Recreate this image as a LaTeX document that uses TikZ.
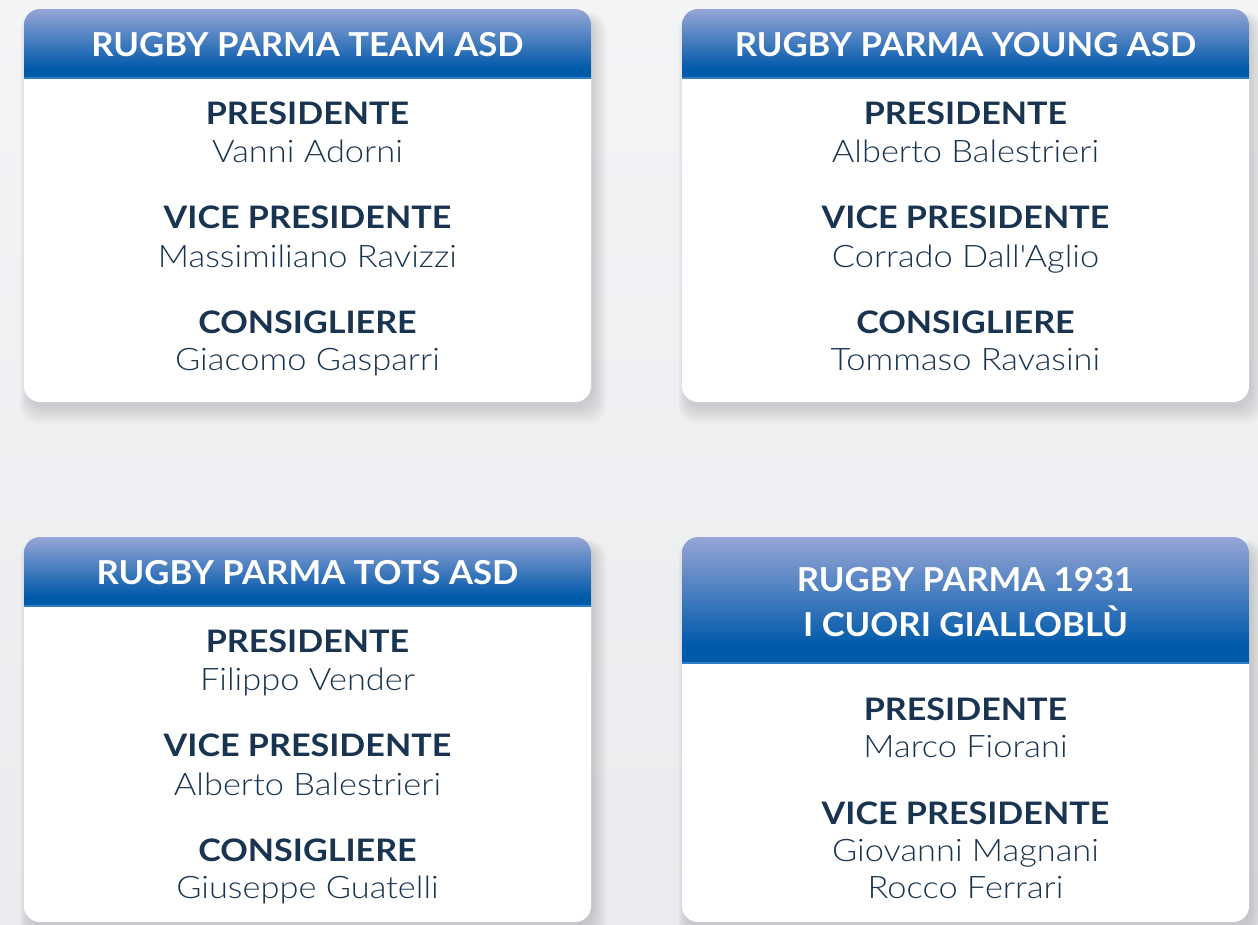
\documentclass[tikz,border=0pt]{standalone}
\usepackage{xcolor}
\usepackage{fontspec}
\setmainfont{Lato}
\newfontfamily\clubfont{Lato}[FakeStretch=1.05]
\newfontfamily\rolefont{Lato}[FakeStretch=1.1]
\newfontfamily\namefont{Lato Light}[FakeStretch=1.11]
\usepackage{tikz}

\definecolor{navy}{RGB}{24,52,80}
\definecolor{hdrtop}{RGB}{150,165,214}
\definecolor{hdrbot}{RGB}{0,90,170}
\definecolor{hdrline}{RGB}{45,125,200}
\definecolor{bgtop}{RGB}{243,244,246}
\definecolor{bgbot}{RGB}{233,235,238}

\pgfdeclareverticalshading{hdrshade}{100bp}{color(0bp)=(hdrbot); color(32bp)=(hdrbot); color(75bp)=(hdrtop); color(100bp)=(hdrtop)}

% card: left, top, right, bottom, header bottom
\newcommand{\rpcard}[5]{%
  \foreach \s in {0,2,...,16}
    \fill[black,opacity=0.015,rounded corners=18pt] ({#1+4-\s*0.5},{#2+8-\s*0.3}) rectangle ({#3+3+\s*0.8},{#4+6+\s});
  \fill[white,rounded corners=16pt] (#1,#2) rectangle (#3,#4);
  \begin{scope}
    \clip[rounded corners=16pt] (#1,#2) rectangle (#3,#4);
    \shade[shading=hdrshade] (#1,#2) rectangle (#3,#5);
  \end{scope}
  \draw[hdrline,line width=1.2pt] (#1,#5) -- (#3,#5);
}

\begin{document}
\begin{tikzpicture}[x=1pt,y=-1pt]
  \tikzstyle{club}=[text=white,font=\clubfont\bfseries\fontsize{33}{40}\selectfont,anchor=base,inner sep=0pt]
  \tikzstyle{role}=[text=navy,font=\rolefont\bfseries\fontsize{31}{37}\selectfont,anchor=base,inner sep=0pt]
  \tikzstyle{who}=[text=navy,font=\namefont\fontsize{31}{37}\selectfont,anchor=base,inner sep=0pt]

  \shade[top color=bgtop,bottom color=bgbot] (0,0) rectangle (1258,924);
  \useasboundingbox (0,0) rectangle (1258,924);

  \rpcard{24}{9}{591}{402}{78}
  \rpcard{682}{9}{1249}{402}{78}
  \rpcard{24}{537}{591}{922}{606}
  \rpcard{682}{537}{1249}{922}{663}

  % team
  \node[club] (T)   at (307.5,56)  {RUGBY PARMA TEAM ASD};
  \node[role] (TP)  at (307.5,124) {PRESIDENTE};
  \node[who]  (TPn) at (307.5,162) {Vanni Adorni};
  \node[role] (TV)  at (307.5,228) {VICE PRESIDENTE};
  \node[who]  (TVn) at (307.5,267) {Massimiliano Ravizzi};
  \node[role] (TC)  at (307.5,333) {CONSIGLIERE};
  \node[who]  (TCn) at (307.5,370) {Giacomo Gasparri};

  % young
  \node[club] (Y)   at (965.5,56)  {RUGBY PARMA YOUNG ASD};
  \node[role] (YP)  at (965.5,124) {PRESIDENTE};
  \node[who]  (YPn) at (965.5,162) {Alberto Balestrieri};
  \node[role] (YV)  at (965.5,228) {VICE PRESIDENTE};
  \node[who]  (YVn) at (965.5,267) {Corrado Dall'Aglio};
  \node[role] (YC)  at (965.5,333) {CONSIGLIERE};
  \node[who]  (YCn) at (965.5,370) {Tommaso Ravasini};

  % tots
  \node[club] (S)   at (307.5,584) {RUGBY PARMA TOTS ASD};
  \node[role] (SP)  at (307.5,652) {PRESIDENTE};
  \node[who]  (SPn) at (307.5,690) {Filippo Vender};
  \node[role] (SV)  at (307.5,756) {VICE PRESIDENTE};
  \node[who]  (SVn) at (307.5,795) {Alberto Balestrieri};
  \node[role] (SC)  at (307.5,861) {CONSIGLIERE};
  \node[who]  (SCn) at (307.5,898) {Giuseppe Guatelli};

  % 1931
  \node[club] (G)   at (965.5,591) {RUGBY PARMA 1931};
  \node[club] (G2)  at (965.5,636) {I CUORI GIALLOBLÙ};
  \node[role] (GP)  at (965.5,720) {PRESIDENTE};
  \node[who]  (GPn) at (965.5,757) {Marco Fiorani};
  \node[role] (GV)  at (965.5,824) {VICE PRESIDENTE};
  \node[who]  (GVn) at (965.5,861) {Giovanni Magnani};
  \node[who]  (GVm) at (965.5,898) {Rocco Ferrari};
\end{tikzpicture}
\end{document}
